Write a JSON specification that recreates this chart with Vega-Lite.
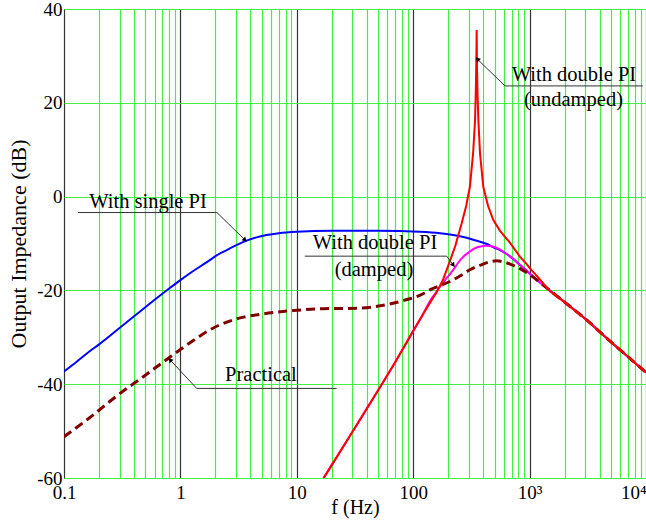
{
  "$schema": "https://vega.github.io/schema/vega-lite/v6.json",
  "width": 582,
  "height": 469,
  "autosize": {"type": "none"},
  "padding": {"left": 64, "top": 9, "right": 0, "bottom": 42},
  "background": "white",
  "config": {
    "font": "Liberation Serif",
    "view": {"stroke": "#333333", "strokeWidth": 1},
    "axis": {
      "labelFont": "Liberation Serif",
      "titleFont": "Liberation Serif",
      "labelFontSize": 19,
      "labelColor": "black",
      "titleColor": "black",
      "titleFontWeight": "normal",
      "ticks": false,
      "domain": false,
      "gridOpacity": 1
    }
  },
  "datasets": {
    "curves": [
      {"s": "single", "f": 0.1, "db": -37.3},
      {"s": "single", "f": 0.13, "db": -35.1},
      {"s": "single", "f": 0.16, "db": -33.3},
      {"s": "single", "f": 0.2, "db": -31.5},
      {"s": "single", "f": 0.25, "db": -29.6},
      {"s": "single", "f": 0.3, "db": -28.0},
      {"s": "single", "f": 0.4, "db": -25.5},
      {"s": "single", "f": 0.5, "db": -23.6},
      {"s": "single", "f": 0.6, "db": -22.0},
      {"s": "single", "f": 0.7, "db": -20.7},
      {"s": "single", "f": 0.8, "db": -19.6},
      {"s": "single", "f": 1.0, "db": -17.8},
      {"s": "single", "f": 1.2, "db": -16.4},
      {"s": "single", "f": 1.5, "db": -14.8},
      {"s": "single", "f": 1.8, "db": -13.5},
      {"s": "single", "f": 2.0, "db": -12.7},
      {"s": "single", "f": 2.5, "db": -11.4},
      {"s": "single", "f": 3.0, "db": -10.4},
      {"s": "single", "f": 3.7, "db": -9.4},
      {"s": "single", "f": 4.5, "db": -8.7},
      {"s": "single", "f": 5.5, "db": -8.2},
      {"s": "single", "f": 7.0, "db": -7.8},
      {"s": "single", "f": 10, "db": -7.5},
      {"s": "single", "f": 20, "db": -7.3},
      {"s": "single", "f": 50, "db": -7.3},
      {"s": "single", "f": 114, "db": -7.5},
      {"s": "single", "f": 170, "db": -7.8},
      {"s": "single", "f": 221, "db": -8.2},
      {"s": "single", "f": 270, "db": -8.6},
      {"s": "single", "f": 328, "db": -9.2},
      {"s": "single", "f": 428, "db": -10.1},
      {"s": "single", "f": 500, "db": -10.9},
      {"s": "single", "f": 557, "db": -11.4},
      {"s": "single", "f": 640, "db": -12.3},
      {"s": "single", "f": 725, "db": -13.3},
      {"s": "single", "f": 830, "db": -14.6},
      {"s": "single", "f": 944, "db": -15.8},
      {"s": "single", "f": 1000, "db": -16.4},
      {"s": "single", "f": 1300, "db": -18.8},
      {"s": "single", "f": 1600, "db": -20.6},
      {"s": "single", "f": 2000, "db": -22.5},
      {"s": "single", "f": 3090, "db": -26.3},
      {"s": "single", "f": 5000, "db": -31.0},
      {"s": "single", "f": 6000, "db": -32.7},
      {"s": "single", "f": 10000, "db": -37.5},

      {"s": "damped", "f": 17, "db": -60},
      {"s": "damped", "f": 20, "db": -57.2},
      {"s": "damped", "f": 30, "db": -50.2},
      {"s": "damped", "f": 50, "db": -41.3},
      {"s": "damped", "f": 70, "db": -35.3},
      {"s": "damped", "f": 100, "db": -28.7},
      {"s": "damped", "f": 120, "db": -25.3},
      {"s": "damped", "f": 139, "db": -22.3},
      {"s": "damped", "f": 155, "db": -20.6},
      {"s": "damped", "f": 170, "db": -19.2},
      {"s": "damped", "f": 195, "db": -17.3},
      {"s": "damped", "f": 221, "db": -15.6},
      {"s": "damped", "f": 245, "db": -14.0},
      {"s": "damped", "f": 270, "db": -12.8},
      {"s": "damped", "f": 300, "db": -11.9},
      {"s": "damped", "f": 328, "db": -11.2},
      {"s": "damped", "f": 370, "db": -10.7},
      {"s": "damped", "f": 428, "db": -10.5},
      {"s": "damped", "f": 490, "db": -10.7},
      {"s": "damped", "f": 557, "db": -11.3},
      {"s": "damped", "f": 640, "db": -12.3},
      {"s": "damped", "f": 725, "db": -13.3},
      {"s": "damped", "f": 830, "db": -14.6},
      {"s": "damped", "f": 944, "db": -15.8},
      {"s": "damped", "f": 1000, "db": -16.4},
      {"s": "damped", "f": 1300, "db": -18.8},
      {"s": "damped", "f": 1600, "db": -20.6},
      {"s": "damped", "f": 2000, "db": -22.5},
      {"s": "damped", "f": 3090, "db": -26.3},
      {"s": "damped", "f": 5000, "db": -31.0},
      {"s": "damped", "f": 6000, "db": -32.7},
      {"s": "damped", "f": 10000, "db": -37.5},

      {"s": "practical", "f": 0.1, "db": -51.2},
      {"s": "practical", "f": 0.167, "db": -47.1},
      {"s": "practical", "f": 0.284, "db": -42.5},
      {"s": "practical", "f": 0.48, "db": -38.4},
      {"s": "practical", "f": 0.815, "db": -34.2},
      {"s": "practical", "f": 1.0, "db": -32.6},
      {"s": "practical", "f": 1.29, "db": -30.7},
      {"s": "practical", "f": 1.71, "db": -28.7},
      {"s": "practical", "f": 2.2, "db": -27.3},
      {"s": "practical", "f": 2.84, "db": -26.3},
      {"s": "practical", "f": 3.5, "db": -25.7},
      {"s": "practical", "f": 4.82, "db": -25.1},
      {"s": "practical", "f": 9.3, "db": -24.3},
      {"s": "practical", "f": 17, "db": -23.9},
      {"s": "practical", "f": 33, "db": -23.8},
      {"s": "practical", "f": 63, "db": -22.9},
      {"s": "practical", "f": 87, "db": -22.0},
      {"s": "practical", "f": 115, "db": -21.0},
      {"s": "practical", "f": 139, "db": -19.9},
      {"s": "practical", "f": 170, "db": -19.0},
      {"s": "practical", "f": 207, "db": -18.1},
      {"s": "practical", "f": 250, "db": -17.0},
      {"s": "practical", "f": 307, "db": -15.6},
      {"s": "practical", "f": 380, "db": -14.6},
      {"s": "practical", "f": 456, "db": -13.9},
      {"s": "practical", "f": 520, "db": -13.7},
      {"s": "practical", "f": 592, "db": -13.9},
      {"s": "practical", "f": 680, "db": -14.4},
      {"s": "practical", "f": 776, "db": -15.0},
      {"s": "practical", "f": 944, "db": -16.2},
      {"s": "practical", "f": 1000, "db": -16.6},
      {"s": "practical", "f": 1300, "db": -18.8},
      {"s": "practical", "f": 1600, "db": -20.6},
      {"s": "practical", "f": 2000, "db": -22.5},
      {"s": "practical", "f": 3090, "db": -26.3},
      {"s": "practical", "f": 5000, "db": -31.0},
      {"s": "practical", "f": 6000, "db": -32.7},
      {"s": "practical", "f": 10000, "db": -37.5},

      {"s": "undamped", "f": 17, "db": -60},
      {"s": "undamped", "f": 20, "db": -57.2},
      {"s": "undamped", "f": 30, "db": -50.2},
      {"s": "undamped", "f": 50, "db": -41.3},
      {"s": "undamped", "f": 70, "db": -35.3},
      {"s": "undamped", "f": 100, "db": -28.6},
      {"s": "undamped", "f": 120, "db": -25.3},
      {"s": "undamped", "f": 140, "db": -22.6},
      {"s": "undamped", "f": 159, "db": -20.4},
      {"s": "undamped", "f": 180, "db": -17.8},
      {"s": "undamped", "f": 207, "db": -13.7},
      {"s": "undamped", "f": 230, "db": -10.5},
      {"s": "undamped", "f": 261, "db": -5.7},
      {"s": "undamped", "f": 285, "db": -2.0},
      {"s": "undamped", "f": 307, "db": 2.1},
      {"s": "undamped", "f": 327, "db": 9.2},
      {"s": "undamped", "f": 340, "db": 16.3},
      {"s": "undamped", "f": 346, "db": 24.0},
      {"s": "undamped", "f": 349, "db": 30.0},
      {"s": "undamped", "f": 351, "db": 35.5},
      {"s": "undamped", "f": 353, "db": 28.0},
      {"s": "undamped", "f": 357, "db": 22.0},
      {"s": "undamped", "f": 363, "db": 16.3},
      {"s": "undamped", "f": 375, "db": 9.2},
      {"s": "undamped", "f": 400, "db": 2.1},
      {"s": "undamped", "f": 440, "db": -2.0},
      {"s": "undamped", "f": 488, "db": -5.0},
      {"s": "undamped", "f": 557, "db": -7.3},
      {"s": "undamped", "f": 677, "db": -9.8},
      {"s": "undamped", "f": 826, "db": -12.8},
      {"s": "undamped", "f": 944, "db": -14.4},
      {"s": "undamped", "f": 1007, "db": -15.3},
      {"s": "undamped", "f": 1200, "db": -17.4},
      {"s": "undamped", "f": 1496, "db": -20.2},
      {"s": "undamped", "f": 2000, "db": -22.5},
      {"s": "undamped", "f": 3090, "db": -26.3},
      {"s": "undamped", "f": 5000, "db": -31.0},
      {"s": "undamped", "f": 6000, "db": -32.7},
      {"s": "undamped", "f": 10000, "db": -37.5}
    ],
    "leaders": [
      {"id": "single", "o": 1, "f": 0.132, "db": -3.4},
      {"id": "single", "o": 2, "f": 2.06, "db": -3.4},
      {"id": "single", "o": 3, "f": 3.59, "db": -9.25},
      {"id": "practical", "o": 1, "f": 22.0, "db": -40.9},
      {"id": "practical", "o": 2, "f": 1.38, "db": -40.9},
      {"id": "practical", "o": 3, "f": 0.815, "db": -34.8},
      {"id": "damped", "o": 1, "f": 11.7, "db": -12.7},
      {"id": "damped", "o": 2, "f": 194, "db": -12.7},
      {"id": "damped", "o": 3, "f": 221, "db": -14.6},
      {"id": "undamped", "o": 1, "f": 9380, "db": 23.6},
      {"id": "undamped", "o": 2, "f": 615, "db": 23.6},
      {"id": "undamped", "o": 3, "f": 356, "db": 29.3}
    ],
    "labels": [
      {"f": 0.527, "db": -1.1, "text": "With single PI"},
      {"f": 4.92, "db": -38.0, "text": "Practical"},
      {"f": 47, "db": -9.96, "text": "With double PI"},
      {"f": 46, "db": -15.65, "text": "(damped)"},
      {"f": 2404, "db": 25.9, "text": "With double PI"},
      {"f": 2380, "db": 20.6, "text": "(undamped)"}
    ]
  },
  "encoding": {
    "x": {
      "field": "f",
      "type": "quantitative",
      "scale": {"type": "log", "domain": [0.1, 10000], "nice": false},
      "axis": {
        "title": "f (Hz)",
        "titleFontSize": 20,
        "titlePadding": -5,
        "labelPadding": 5,
        "values": [0.1, 0.2, 0.3, 0.4, 0.5, 0.6, 0.7, 0.8, 0.9, 1, 2, 3, 4, 5, 6, 7, 8, 9, 10, 20, 30, 40, 50, 60, 70, 80, 90, 100, 200, 300, 400, 500, 600, 700, 800, 900, 1000, 2000, 3000, 4000, 5000, 6000, 7000, 8000, 9000, 10000],
        "labelExpr": "datum.value == 0.1 ? '0.1' : datum.value == 1 ? '1' : datum.value == 10 ? '10' : datum.value == 100 ? '100' : datum.value == 1000 ? '10³' : datum.value == 10000 ? '10⁴' : ''",
        "labelAlign": {"condition": {"test": "datum.value == 10000", "value": "right"}, "value": "center"},
        "labelOverlap": false,
        "labelFlush": false,
        "grid": true,
        "gridColor": {"condition": {"test": "indexof([0.1, 1, 10, 100, 1000, 10000], datum.value) >= 0", "value": "#333333"}, "value": "#44ee44"},
        "gridWidth": 1.2
      }
    },
    "y": {
      "field": "db",
      "type": "quantitative",
      "scale": {"domain": [-60, 40], "nice": false},
      "axis": {
        "title": "Output Impedance (dB)",
        "titleFontSize": 22,
        "titlePadding": 6,
        "labelPadding": 2,
        "values": [-60, -40, -20, 0, 20, 40],
        "labelExpr": "'' + datum.value",
        "grid": true,
        "gridColor": "#44ee44",
        "gridWidth": 1.2
      }
    }
  },
  "layer": [
    {
      "data": {"name": "curves"},
      "transform": [{"filter": "datum.s == 'single'"}],
      "mark": {"type": "line", "color": "#0000ff", "strokeWidth": 2, "clip": true, "interpolate": "monotone"},
      "encoding": {"order": {"field": "f", "type": "quantitative"}}
    },
    {
      "data": {"name": "curves"},
      "transform": [{"filter": "datum.s == 'damped'"}],
      "mark": {"type": "line", "color": "#ff00ff", "strokeWidth": 2, "clip": true, "interpolate": "monotone"},
      "encoding": {"order": {"field": "f", "type": "quantitative"}}
    },
    {
      "data": {"name": "curves"},
      "transform": [{"filter": "datum.s == 'practical'"}],
      "mark": {"type": "line", "color": "#800000", "strokeWidth": 3, "strokeDash": [9, 5], "clip": true, "interpolate": "monotone"},
      "encoding": {"order": {"field": "f", "type": "quantitative"}}
    },
    {
      "data": {"name": "curves"},
      "transform": [{"filter": "datum.s == 'undamped'"}],
      "mark": {"type": "line", "color": "#ff0000", "strokeWidth": 2, "clip": true},
      "encoding": {"order": {"field": "f", "type": "quantitative"}}
    },
    {
      "data": {"name": "leaders"},
      "mark": {"type": "line", "color": "#333333", "strokeWidth": 1},
      "encoding": {
        "detail": {"field": "id"},
        "order": {"field": "o", "type": "quantitative"}
      }
    },
    {
      "data": {"name": "leaders"},
      "transform": [{"filter": "datum.id == 'single' && datum.o == 3"}],
      "mark": {"type": "point", "shape": "triangle-up", "filled": true, "color": "black", "size": 28, "angle": 134, "opacity": 1}
    },
    {
      "data": {"name": "leaders"},
      "transform": [{"filter": "datum.id == 'practical' && datum.o == 3"}],
      "mark": {"type": "point", "shape": "triangle-up", "filled": true, "color": "black", "size": 28, "angle": 317, "opacity": 1}
    },
    {
      "data": {"name": "leaders"},
      "transform": [{"filter": "datum.id == 'damped' && datum.o == 3"}],
      "mark": {"type": "point", "shape": "triangle-up", "filled": true, "color": "black", "size": 28, "angle": 143, "opacity": 1}
    },
    {
      "data": {"name": "leaders"},
      "transform": [{"filter": "datum.id == 'undamped' && datum.o == 3"}],
      "mark": {"type": "point", "shape": "triangle-up", "filled": true, "color": "black", "size": 28, "angle": 314, "opacity": 1}
    },
    {
      "data": {"name": "labels"},
      "mark": {"type": "text", "font": "Liberation Serif", "fontSize": 20.5, "color": "black", "align": "center", "baseline": "middle"},
      "encoding": {"text": {"field": "text"}}
    }
  ]
}
